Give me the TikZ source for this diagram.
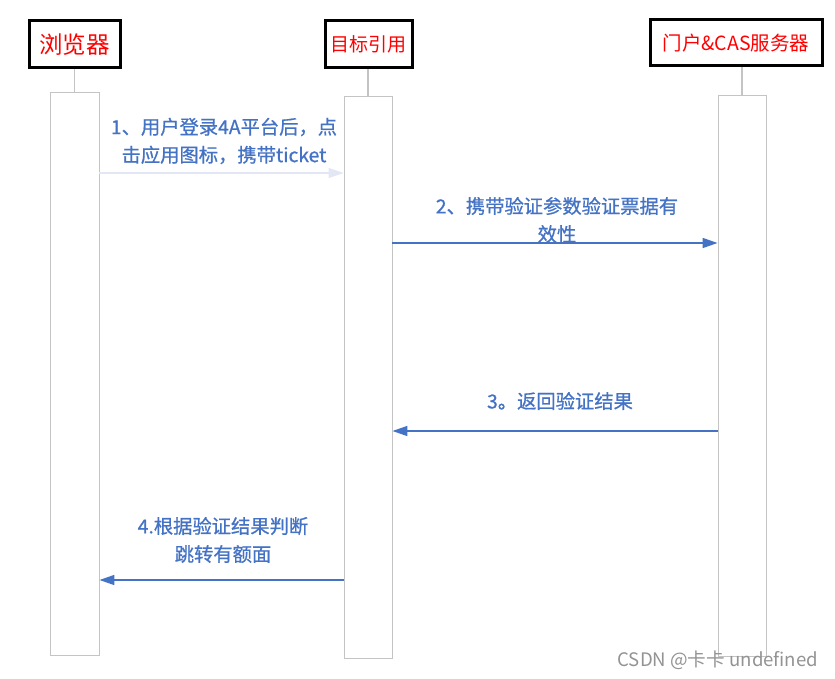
\documentclass[tikz,border=0pt]{standalone}
\usepackage{fontspec}
\setmainfont{Noto Sans CJK SC}
\newfontfamily\lblfont[FakeBold=0.8]{Noto Sans CJK SC}
\usepackage{tikz}
\usetikzlibrary{arrows.meta}
\definecolor{msgblue}{HTML}{4472C4}
\definecolor{faintblue}{HTML}{E3E7F5}
\definecolor{bargray}{HTML}{C4C4C4}

\begin{document}
\begin{tikzpicture}[x=1pt, y=-1pt,
  actorn/.style={draw=black, line width=3pt, fill=white, text=red, inner sep=0pt},
  lifebar/.style={draw=bargray, line width=0.9pt, minimum width=49pt, inner sep=0pt},
  stemline/.style={draw=bargray, line width=1.2pt},
  msgedge/.style={draw=msgblue, line width=1.6pt, -{Triangle[length=15pt, width=10pt]}},
  faintedge/.style={draw=faintblue, line width=1.2pt, -{Triangle[length=15pt, width=10pt]}},
  msglbl/.style={text=msgblue, align=center, font=\lblfont\fontsize{19.3}{28}\selectfont},
  wmark/.style={text=gray!85, font=\fontsize{18.6}{20}\selectfont, anchor=west}
]
  \useasboundingbox (0,0) rectangle (835,679);
  % actors
  \node[actorn, minimum width=91pt, minimum height=47pt, font=\fontsize{23.5}{25}\selectfont] (brw) at (74.5,44.5) {浏览器};
  \node[actorn, minimum width=87pt, minimum height=47pt, font=\fontsize{19}{22}\selectfont] (app) at (368.5,44.5) {目标引用};
  \node[actorn, minimum width=172pt, minimum height=46pt, font=\fontsize{19.5}{22}\selectfont] (cas) at (736,43) {门户\&CAS服务器};
  % activation bars
  \node[lifebar, minimum height=563pt] (bar1) at (74.5,373.5) {};
  \node[lifebar, minimum width=48pt, minimum height=562pt] (bar2) at (368,377) {};
  \node[lifebar, minimum width=48pt, minimum height=561pt] (bar3) at (742,375.5) {};
  \draw[stemline] (bar1.north |- brw.south) -- (bar1.north);
  \draw[stemline] (bar2.north |- app.south) -- (bar2.north);
  \draw[stemline] (bar3.north |- cas.south) -- (bar3.north);
  % messages
  \draw[faintedge] (bar1.east |- 0,173) -- (bar2.west |- 0,173);
  \draw[msgedge] (bar2.east |- 0,243) -- (bar3.west |- 0,243);
  \draw[msgedge] (bar3.west |- 0,431) -- (bar2.east |- 0,431);
  \draw[msgedge] (bar2.west |- 0,580) -- (bar1.east |- 0,580);
  \node[msglbl] (l1) at (224,141) {1、用户登录4A平台后，点\\击应用图标，携带ticket};
  \node[msglbl] (l2) at (557,220) {2、携带验证参数验证票据有\\效性};
  \node[msglbl] (l3) at (560,401) {3。返回验证结果};
  \node[msglbl] (l4) at (223,540) {4.根据验证结果判断\\跳转有额面};
  \node[wmark] (wm) at (614,660) {CSDN @卡卡 undefined};
\end{tikzpicture}
\end{document}
